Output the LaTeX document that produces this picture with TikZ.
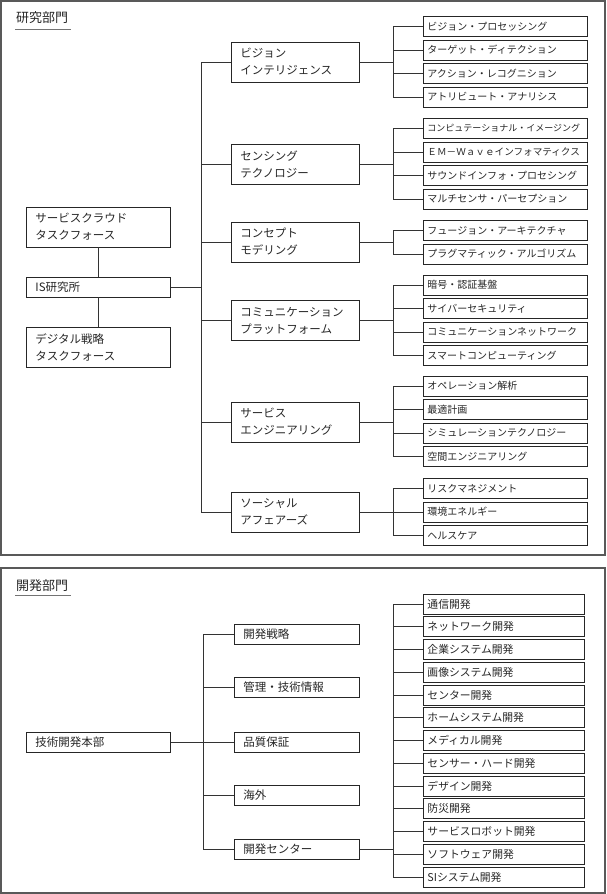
\documentclass[tikz,border=0pt]{standalone}
\usepackage{fontspec}
\setmainfont{Noto Sans CJK JP}
\begin{document}
\begin{tikzpicture}[x=1pt,y=-1pt,
  frame/.style={draw=black!65, line width=1.1pt},
  conn/.style={draw=black!80, line width=0.8pt},
  uline/.style={draw=black!55, line width=1pt},
  title/.style={anchor=west, inner sep=0pt, font=\fontsize{13}{15}\selectfont, text=black!85},
  basebox/.style={draw=black!85, line width=0.9pt, anchor=west, inner ysep=0pt, align=left, text=black!85},
  rbox/.style={basebox, minimum width=164pt, text width=156pt, inner xsep=4pt, minimum height=20pt, font=\fontsize{10}{12}\selectfont},
  mbox/.style={basebox, minimum width=128pt, text width=110pt, inner xsep=9pt, minimum height=40pt, font=\fontsize{11.5}{17}\selectfont},
  lbox/.style={basebox, minimum width=144pt, text width=126pt, inner xsep=9pt, minimum height=40pt, font=\fontsize{11.5}{17}\selectfont},
  sbox/.style={basebox, minimum width=144pt, text width=126pt, inner xsep=9pt, minimum height=20pt, font=\fontsize{11.5}{14}\selectfont},
  dmbox/.style={basebox, minimum width=125pt, text width=107pt, inner xsep=9pt, minimum height=20pt, font=\fontsize{11.5}{14}\selectfont},
  drbox/.style={basebox, minimum width=161pt, text width=153pt, inner xsep=4pt, minimum height=20pt, font=\fontsize{10.8}{13}\selectfont}
]
\useasboundingbox (0,0) rectangle (606,894);
% frames
\draw[frame] (1,1) rectangle (605,555);
\draw[frame] (1,568) rectangle (605,893);

% ===== 研究部門 =====
\node[title] (t1) at (16,18) {研究部門};
\draw[uline] (15,29.5) -- (71,29.5);

\node[lbox] (sc) at (26,227) {サービスクラウド\\タスクフォース};
\node[sbox] (is) at (26,287) {IS研究所};
\node[lbox] (ds) at (26,347) {デジタル戦略\\タスクフォース};
\draw[conn] (sc.south) -- (is.north);
\draw[conn] (is.south) -- (ds.north);

\coordinate (busA) at (201,0);
\coordinate (busB) at (393,0);

\node[mbox] (m1) at (231,62) {ビジョン\\インテリジェンス};
\node[mbox] (m2) at (231,164) {センシング\\テクノロジー};
\node[mbox] (m3) at (231,242) {コンセプト\\モデリング};
\node[mbox] (m4) at (231,320.5) {コミュニケーション\\プラットフォーム};
\node[mbox] (m5) at (231,422) {サービス\\エンジニアリング};
\node[mbox] (m6) at (231,512) {ソーシャル\\アフェアーズ};

\draw[conn] (is.east) -- (is.east -| busA);
\draw[conn] (m1.west -| busA) -- (m6.west -| busA);
\foreach \m in {m1,m2,m3,m4,m5,m6}{\draw[conn] (\m.west) -- (\m.west -| busA);}

% group 1
\node[rbox] (r11) at (423,26.5) {ビジョン・プロセッシング};
\node[rbox] (r12) at (423,50) {ターゲット・ディテクション};
\node[rbox] (r13) at (423,73.5) {アクション・レコグニション};
\node[rbox] (r14) at (423,97) {アトリビュート・アナリシス};
% group 2
\node[rbox,font=\fontsize{9}{11}\selectfont] (r21) at (423,128.5) {コンピュテーショナル・イメージング};
\node[rbox,font=\fontsize{9.6}{11}\selectfont] (r22) at (423,152) {ＥＭ－Ｗａｖｅインフォマティクス};
\node[rbox] (r23) at (423,175.5) {サウンドインフォ・プロセシング};
\node[rbox] (r24) at (423,199) {マルチセンサ・パーセプション};
% group 3
\node[rbox] (r31) at (423,230.5) {フュージョン・アーキテクチャ};
\node[rbox] (r32) at (423,254) {プラグマティック・アルゴリズム};
% group 4
\node[rbox] (r41) at (423,285) {暗号・認証基盤};
\node[rbox] (r42) at (423,308.5) {サイバーセキュリティ};
\node[rbox] (r43) at (423,332) {コミュニケーションネットワーク};
\node[rbox] (r44) at (423,355.5) {スマートコンピューティング};
% group 5
\node[rbox] (r51) at (423,386) {オペレーション解析};
\node[rbox] (r52) at (423,409.5) {最適計画};
\node[rbox] (r53) at (423,433) {シミュレーションテクノロジー};
\node[rbox] (r54) at (423,456.5) {空間エンジニアリング};
% group 6
\node[rbox] (r61) at (423,488.5) {リスクマネジメント};
\node[rbox] (r62) at (423,512) {環境エネルギー};
\node[rbox] (r63) at (423,535.5) {ヘルスケア};

\foreach \m/\a/\b in {m1/r11/r14, m2/r21/r24, m3/r31/r32, m4/r41/r44, m5/r51/r54, m6/r61/r63}{
  \draw[conn] (\m.east) -- (\m.east -| busB);
  \draw[conn] (\a.west -| busB) -- (\b.west -| busB);
}
\foreach \r in {r11,r12,r13,r14,r21,r22,r23,r24,r31,r32,r41,r42,r43,r44,r51,r52,r53,r54,r61,r62,r63}{
  \draw[conn] (\r.west) -- (\r.west -| busB);
}

% ===== 開発部門 =====
\node[title] (t2) at (16,586) {開発部門};
\draw[uline] (15,595.5) -- (71,595.5);

\node[sbox] (hq) at (26,742) {技術開発本部};

\coordinate (busC) at (203,0);
\coordinate (busD) at (393,0);

\node[dmbox] (d1) at (234,634) {開発戦略};
\node[dmbox] (d2) at (234,687) {管理・技術情報};
\node[dmbox] (d3) at (234,742) {品質保証};
\node[dmbox] (d4) at (234,795) {海外};
\node[dmbox] (d5) at (234,849) {開発センター};

\draw[conn] (hq.east) -- (hq.east -| busC);
\draw[conn] (d1.west -| busC) -- (d5.west -| busC);
\foreach \d in {d1,d2,d3,d4,d5}{\draw[conn] (\d.west) -- (\d.west -| busC);}

\foreach \i/\t in {0/通信開発,1/ネットワーク開発,2/企業システム開発,3/画像システム開発,4/センター開発,5/ホームシステム開発,6/メディカル開発,7/センサー・ハード開発,8/デザイン開発,9/防災開発,10/サービスロボット開発,11/ソフトウェア開発,12/SIシステム開発}{
  \node[drbox] (e\i) at (423,{604+22.75*\i}) {\t};
  \draw[conn] (e\i.west) -- (e\i.west -| busD);
}
\draw[conn] (e0.west -| busD) -- (e12.west -| busD);
\draw[conn] (d5.east) -- (d5.east -| busD);
\end{tikzpicture}
\end{document}
